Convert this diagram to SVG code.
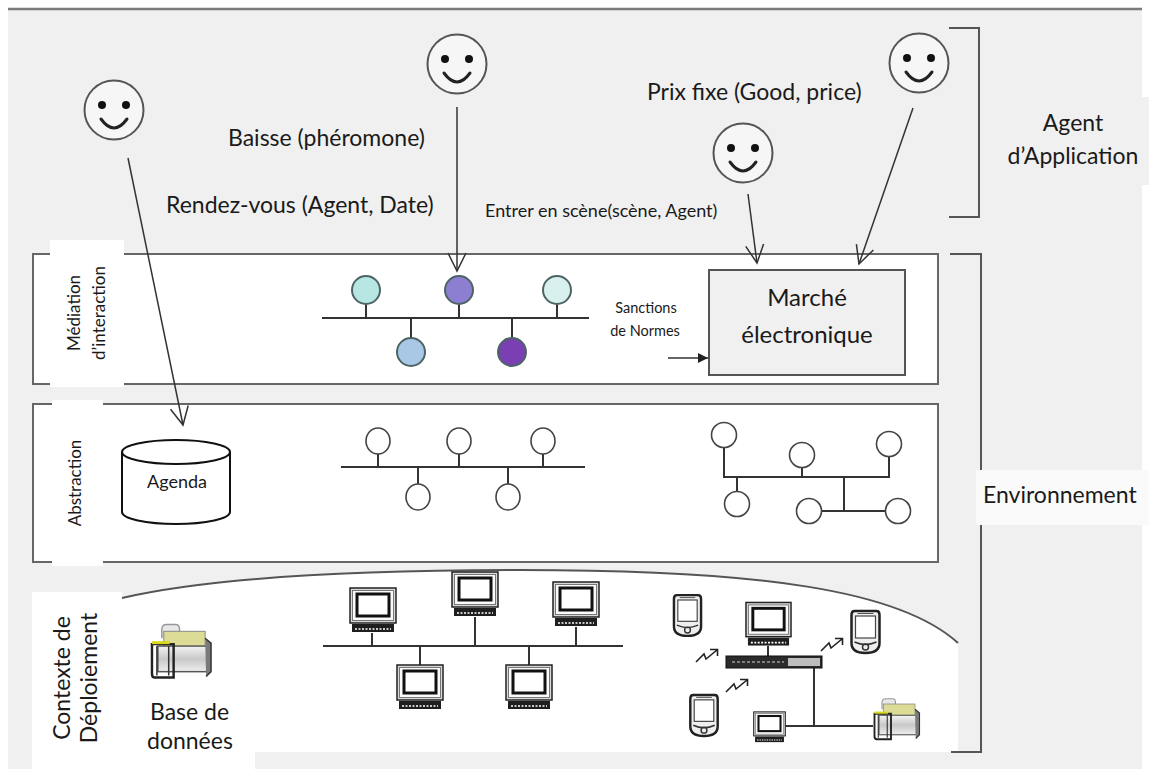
<svg xmlns="http://www.w3.org/2000/svg" width="1149" height="769" viewBox="0 0 1149 769">
  <defs>
    <style>
      text { font-family: Lato, "Open Sans", "Liberation Sans", sans-serif; fill: #1a1a1a; }
      .lbl { font-size: 23px; }
      .mid { font-size: 18px; }
      .side { font-size: 17px; }
      .small { font-size: 14.5px; }
      .frame { fill: #fff; stroke: #666; stroke-width: 2; }
      .wire { fill: none; stroke: #333; stroke-width: 2; }
      .node { stroke: #4d6464; stroke-width: 2; }
      .onode { fill: #fff; stroke: #444; stroke-width: 1.6; }
      .conn { fill: none; stroke: #333; stroke-width: 1.5; }
      .bracket { fill: none; stroke: #555; stroke-width: 2; }
    </style>
    <marker id="vhead" markerUnits="userSpaceOnUse" markerWidth="22" markerHeight="22" refX="19" refY="10" orient="auto">
      <path d="M1,1 L19,10 L1,19" fill="none" stroke="#333" stroke-width="1.5"/>
    </marker>
    <marker id="solid" markerUnits="userSpaceOnUse" markerWidth="12" markerHeight="12" refX="10" refY="5" orient="auto">
      <path d="M0,0 L10,5 L0,10 Z" fill="#222"/>
    </marker>
    <linearGradient id="gbox" x1="0" y1="0" x2="0" y2="1">
      <stop offset="0" stop-color="#f4f4f4"/>
      <stop offset="0.5" stop-color="#c8c8c8"/>
      <stop offset="1" stop-color="#eeeeee"/>
    </linearGradient>
    <!-- smiley agent -->
    <symbol id="smiley" viewBox="-32 -32 64 64">
      <circle r="29.5" fill="#f6f6f6" stroke="#555" stroke-width="2"/>
      <circle cx="-12" cy="-5" r="4" fill="#111"/>
      <circle cx="12" cy="-5" r="4" fill="#111"/>
      <path d="M-13,9 Q0,27 13,9" fill="none" stroke="#222" stroke-width="3" stroke-linecap="round"/>
    </symbol>
    <!-- desktop computer -->
    <symbol id="pc" viewBox="0 0 48 46">
      <rect x="1" y="1" width="46" height="35" fill="#d9d9d9" stroke="#222" stroke-width="1.5"/>
      <rect x="3.5" y="3.5" width="41" height="30" fill="#fafafa" stroke="#777" stroke-width="1"/>
      <rect x="8" y="7" width="32" height="22" fill="#fff" stroke="#111" stroke-width="3"/>
      <rect x="3" y="37" width="42" height="8" fill="#1e1e1e"/>
      <line x1="6" y1="42" x2="42" y2="42" stroke="#fff" stroke-width="1.6" stroke-dasharray="2 1.5"/>
    </symbol>
    <!-- handheld device -->
    <symbol id="pda" viewBox="0 0 32 46">
      <path d="M5,2 H27 Q30,2 30,6 V34 Q30,44 16,44 Q2,44 2,34 V6 Q2,2 5,2 Z" fill="#efefef" stroke="#222" stroke-width="2.5"/>
      <line x1="8" y1="4.5" x2="24" y2="4.5" stroke="#555" stroke-width="1"/>
      <rect x="6" y="7" width="20" height="22" fill="#fff" stroke="#444" stroke-width="1.2"/>
      <path d="M5,33 Q16,38 27,33" fill="none" stroke="#333" stroke-width="1.5"/>
      <circle cx="16" cy="38" r="3" fill="none" stroke="#333" stroke-width="1.5"/>
    </symbol>
    <!-- database cabinet -->
    <symbol id="db" viewBox="0 0 64 58">
      <path d="M12,16 V7 Q12,2 17,2 H26 Q30,2 30,7 V9" fill="#e8e8e8" stroke="#999" stroke-width="1.5"/>
      <rect x="14" y="9" width="42" height="18" fill="#dcdc96" stroke="#888" stroke-width="1"/>
      <rect x="8" y="24" width="50" height="26" fill="url(#gbox)" stroke="#555" stroke-width="1.5"/>
      <path d="M56,16 L62,21 V50 L57,55" fill="#7a7a7a" stroke="#333" stroke-width="1.5"/>
      <path d="M2,22 H24 V56 H5 Q2,56 2,52 Z" fill="none" stroke="#222" stroke-width="2.5"/>
      <path d="M7,24 V54 M19,24 V54" fill="none" stroke="#333" stroke-width="1.5"/>
      <rect x="2" y="19" width="18" height="3" fill="#d8d820"/>
    </symbol>
    <!-- wireless link -->
    <symbol id="zap" viewBox="0 0 26 16">
      <path d="M1,15 L9,7 L11,12 L22,3 M15,2.5 H22.5 V9" fill="none" stroke="#222" stroke-width="1.6"/>
    </symbol>
  </defs>

  <!-- page background -->
  <rect width="1149" height="769" fill="#fff"/>
  <rect x="8" y="9" width="1134" height="760" fill="#f0f0f0"/>
  <rect x="1000" y="97" width="149" height="88" fill="#f0f0f0"/>
  <line x1="8" y1="9" x2="1142" y2="9" stroke="#7a7a7a" stroke-width="2.5"/>

  <!-- layer frames -->
  <g id="layer-mediation">
    <rect class="frame" x="33" y="254" width="905" height="130"/>
    <rect x="50" y="240" width="74" height="147" fill="#fff"/>
    <text class="side" transform="translate(80,313) rotate(-90)" text-anchor="middle">Médiation</text>
    <text class="side" transform="translate(105,313) rotate(-90)" text-anchor="middle">d’interaction</text>
  </g>
  <g id="layer-abstraction">
    <rect class="frame" x="33" y="404" width="905" height="158"/>
    <rect x="52" y="400" width="51" height="166" fill="#fff"/>
    <text class="side" font-size="18" transform="translate(81,483) rotate(-90)" text-anchor="middle">Abstraction</text>
  </g>
  <g id="layer-deploiement">
    <path d="M32,592 H122 V598 C200,580 330,570 520,570 C760,570 900,590 958,643 V752 H255 V769 H32 Z" fill="#fff"/>
    <path d="M122,598 C200,580 330,570 520,570 C760,570 900,590 958,643" fill="none" stroke="#555" stroke-width="2"/>
    <text class="lbl" transform="translate(70,678) rotate(-90)" text-anchor="middle">Contexte de</text>
    <text class="lbl" transform="translate(97,678) rotate(-90)" text-anchor="middle">Déploiement</text>
  </g>

  <!-- side brackets -->
  <g id="agent-application">
    <path class="bracket" d="M949,28 H979 V217 H949"/>
    <text class="lbl" x="1073" y="131" text-anchor="middle">Agent</text>
    <text class="lbl" x="1073" y="164" text-anchor="middle">d’Application</text>
  </g>
  <g id="environnement">
    <path class="bracket" d="M950,254 H981 V470 M981,525 V752 H951"/>
    <rect x="976" y="470" width="173" height="55" fill="#fafafa"/>
    <text class="lbl" x="983" y="503">Environnement</text>
  </g>

  <!-- connectors -->
  <g id="connectors">
    <line class="conn" x1="128" y1="158" x2="183" y2="425" marker-end="url(#vhead)"/>
    <line class="conn" x1="457" y1="107" x2="457" y2="271" marker-end="url(#vhead)"/>
    <line class="conn" x1="748" y1="194" x2="757" y2="263" marker-end="url(#vhead)"/>
    <line class="conn" x1="913" y1="108" x2="859" y2="264" marker-end="url(#vhead)"/>
    <line class="conn" x1="668" y1="358" x2="708" y2="358" stroke-width="2" marker-end="url(#solid)"/>

    <!-- interaction bus -->
    <path class="wire" d="M322,318 H589 M366,304 V318 M459,304 V318 M557,304 V318 M411,318 V338 M512,318 V338"/>
    <!-- abstraction bus -->
    <path class="wire" d="M341,467 H585 M378,454 V467 M459,454 V467 M543,454 V467 M418,467 V484 M508,467 V484" stroke-width="1.8"/>
    <!-- abstraction tree -->
    <path class="wire" d="M724,447 V477 H889 V456 M802,467 V477 M737,477 V492 M844,477 V511 M821,511 H886" stroke-width="1.8"/>
    <!-- LAN bus -->
    <path class="wire" d="M323,646 H623 M372,633 V646 M475,617 V646 M576,627 V646 M420,646 V665 M529,646 V665" stroke-width="1.6"/>
    <!-- wireless cluster links -->
    <path class="wire" d="M768,646 V656 M814,668 V726 M785,726 H873" stroke-width="1.6"/>
  </g>

  <!-- application agents -->
  <g id="agent-agenda">
    <use href="#smiley" x="82" y="78" width="64" height="64"/>
    <text class="lbl" x="166" y="213">Rendez-vous (Agent, Date)</text>
  </g>
  <g id="agent-pheromone">
    <use href="#smiley" x="425" y="32" width="64" height="64"/>
    <text class="lbl" x="228" y="146">Baisse (phéromone)</text>
  </g>
  <g id="agent-scene">
    <use href="#smiley" x="711" y="121" width="64" height="64"/>
    <text class="mid" x="485" y="217">Entrer en scène(scène, Agent)</text>
  </g>
  <g id="agent-prix">
    <use href="#smiley" x="887" y="31" width="64" height="64"/>
    <text class="lbl" x="647" y="100">Prix fixe (Good, price)</text>
  </g>

  <!-- interaction mediation nodes -->
  <g id="mediation-nodes">
    <circle class="node" cx="366" cy="290" r="14" fill="#b8e6e2"/>
    <circle class="node" cx="459" cy="290" r="14" fill="#8c7fd2"/>
    <circle class="node" cx="557" cy="290" r="14" fill="#d9f1ee"/>
    <circle class="node" cx="411" cy="352" r="14" fill="#a9c8e6"/>
    <circle class="node" cx="512" cy="352" r="14" fill="#7a3fb2"/>
  </g>
  <g id="marche">
    <rect x="709" y="270" width="196" height="105" fill="#f0f0f0" stroke="#555" stroke-width="2"/>
    <text x="807" y="306" text-anchor="middle" font-size="24">Marché</text>
    <text x="807" y="343" text-anchor="middle" font-size="24">électronique</text>
  </g>
  <g id="sanctions">
    <text class="small" x="646" y="313" text-anchor="middle">Sanctions</text>
    <text class="small" x="645" y="336" text-anchor="middle">de Normes</text>
  </g>

  <!-- abstraction nodes -->
  <g id="agenda">
    <path d="M122,452 V512 A54,12 0 0 0 230,512 V452" fill="#fff" stroke="#111" stroke-width="2"/>
    <ellipse cx="176" cy="452" rx="54" ry="12" fill="#fff" stroke="#111" stroke-width="2"/>
    <text x="177" y="488" text-anchor="middle" font-size="18">Agenda</text>
  </g>
  <g id="abstraction-bus-nodes">
    <ellipse class="onode" cx="378" cy="441" rx="12" ry="13"/>
    <ellipse class="onode" cx="459" cy="441" rx="12" ry="13"/>
    <ellipse class="onode" cx="543" cy="441" rx="12" ry="13"/>
    <ellipse class="onode" cx="418" cy="497" rx="12" ry="13"/>
    <ellipse class="onode" cx="508" cy="497" rx="12" ry="13"/>
  </g>
  <g id="abstraction-tree-nodes">
    <circle class="onode" cx="724" cy="435" r="12.5"/>
    <circle class="onode" cx="802" cy="455" r="12.5"/>
    <circle class="onode" cx="889" cy="444" r="12.5"/>
    <circle class="onode" cx="737" cy="504" r="12.5"/>
    <circle class="onode" cx="809" cy="511" r="12.5"/>
    <circle class="onode" cx="898" cy="511" r="12.5"/>
  </g>

  <!-- deployment context -->
  <g id="base-de-donnees">
    <use href="#db" x="150" y="622" width="63" height="58"/>
    <text class="lbl" x="150" y="720">Base de</text>
    <text class="lbl" x="147" y="749">données</text>
  </g>
  <g id="lan">
    <use href="#pc" x="349" y="587" width="48" height="46"/>
    <use href="#pc" x="451" y="571" width="48" height="46"/>
    <use href="#pc" x="552" y="581" width="48" height="46"/>
    <use href="#pc" x="396" y="664" width="48" height="46"/>
    <use href="#pc" x="505" y="664" width="48" height="46"/>
  </g>
  <g id="wireless">
    <use href="#pda" x="672" y="593" width="31" height="45"/>
    <use href="#pda" x="849" y="609" width="33" height="46"/>
    <use href="#pda" x="688" y="693" width="32" height="45"/>
    <use href="#pc" x="745" y="601" width="47" height="46"/>
    <g id="hub">
      <rect x="726" y="656" width="96" height="12" fill="#2b2b2b" stroke="#111" stroke-width="1"/>
      <rect x="788" y="658" width="32" height="8" fill="#bdbdbd"/>
      <line x1="732" y1="662" x2="784" y2="662" stroke="#999" stroke-width="1.5" stroke-dasharray="3 2"/>
    </g>
    <use href="#pc" x="753" y="711" width="33" height="32"/>
    <use href="#db" x="873" y="695" width="48" height="48"/>
    <use href="#zap" x="695" y="647" width="26" height="16"/>
    <use href="#zap" x="820" y="636" width="26" height="16"/>
    <use href="#zap" x="725" y="677" width="26" height="16"/>
  </g>
</svg>
